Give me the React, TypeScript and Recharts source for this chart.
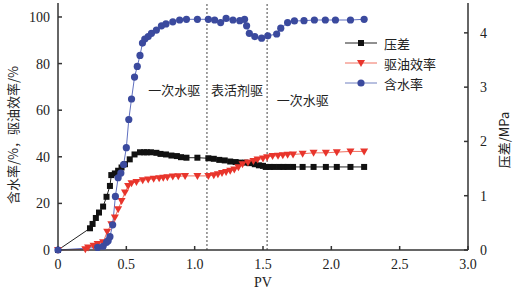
import {
  LineChart,
  Line,
  XAxis,
  YAxis,
  ReferenceLine,
  ReferenceDot,
  Legend,
} from "recharts";

// 压差 (MPa)
const pvPressure = [
  0, 0.234, 0.253, 0.277, 0.3, 0.33, 0.355, 0.38, 0.39, 0.416, 0.44, 0.465, 0.49, 0.525, 0.56, 0.6,
  0.63, 0.65, 0.68, 0.72, 0.75, 0.79, 0.83, 0.87, 0.9, 0.94, 1.02, 1.1, 1.14, 1.18, 1.22, 1.26, 1.3,
  1.33, 1.37, 1.4, 1.44, 1.47, 1.5, 1.52, 1.55, 1.58, 1.62, 1.65, 1.68, 1.72, 1.79, 1.87, 1.96,
  2.04, 2.14, 2.24,
];
const pressure = [
  0, 0.4, 0.48, 0.59, 0.69, 0.8, 0.98, 1.18, 1.38, 1.41, 1.46, 1.52, 1.58, 1.67, 1.76, 1.8, 1.8,
  1.8, 1.8, 1.79, 1.77, 1.76, 1.74, 1.73, 1.71, 1.7, 1.7, 1.69, 1.68, 1.66, 1.65, 1.63, 1.62, 1.61,
  1.61, 1.6, 1.58, 1.56, 1.55, 1.53, 1.53, 1.53, 1.53, 1.53, 1.53, 1.53, 1.53, 1.53, 1.53, 1.53,
  1.53, 1.53,
];

// 驱油效率 (%)
const pvOil = [
  0, 0.2, 0.22, 0.26, 0.29, 0.33, 0.36, 0.39, 0.416, 0.44, 0.465, 0.49, 0.513, 0.538, 0.574, 0.62,
  0.66, 0.7, 0.74, 0.77, 0.8, 0.84, 0.88, 0.93, 1.02, 1.1, 1.14, 1.17, 1.2, 1.23, 1.26, 1.29, 1.32,
  1.35, 1.39, 1.43, 1.46, 1.5, 1.53, 1.57, 1.61, 1.645, 1.68, 1.72, 1.79, 1.87, 1.96, 2.04, 2.14,
  2.24,
];
const oilEff = [
  0, 0.3, 1.1, 1.8, 2.6, 3.3, 7.8, 11.1, 14, 17.5, 21, 24.7, 27.5, 28.6, 29.2, 29.9, 30.3, 30.6,
  30.8, 31, 31.2, 31.5, 31.6, 31.8, 31.8, 31.8, 32.1, 32.5, 33, 33.5, 34, 34.6, 35.5, 36.8, 37.5,
  38.2, 38.8, 39.3, 39.8, 40.3, 40.5, 40.7, 40.9, 41, 41.3, 41.7, 41.7, 42, 42.3, 42.3,
];

// 含水率 (%)
const pvWater = [
  0, 0.29, 0.33, 0.355, 0.367, 0.38, 0.4, 0.42, 0.44, 0.46, 0.48, 0.5, 0.518, 0.538, 0.56, 0.58,
  0.6, 0.618, 0.635, 0.66, 0.684, 0.72, 0.757, 0.79, 0.84, 0.89, 0.94, 1.02, 1.1, 1.146, 1.19, 1.23,
  1.28, 1.33, 1.365, 1.38, 1.4, 1.44, 1.49, 1.535, 1.6, 1.63, 1.68, 1.73, 1.8, 1.876, 1.956, 2.03,
  2.14, 2.24,
];
const waterCut = [
  0, 1.1, 1.6, 3.3, 4, 5.7, 10.8, 23, 31, 33, 36.7, 43.9, 56, 64.8, 74.2, 78.8, 83.5, 88.8, 90.5,
  91.6, 93, 94.4, 96.2, 97, 97.9, 98.7, 99, 99, 99, 98.7, 97.6, 99.4, 98.7, 98.4, 99, 96.2, 93, 91.6,
  90.9, 91.9, 92.7, 95.2, 97.6, 98.3, 98.4, 98.7, 98.7, 98.7, 98.7, 99,
];

const xTicks = [0, 0.5, 1, 1.5, 2, 2.5, 3];
const leftTicks = [0, 20, 40, 60, 80, 100];
const rightTicks = [0, 1, 2, 3, 4];
const stageBounds = [1.09, 1.53];
const stageLabels = [
  { x: 0.85, y: 68.4, text: "一次水驱" },
  { x: 1.31, y: 68.4, text: "表活剂驱" },
  { x: 1.79, y: 64, text: "一次水驱" },
];

const pressureData = pvPressure.map((pv, i) => ({ pv, v: pressure[i] }));
const oilData = pvOil.map((pv, i) => ({ pv, v: oilEff[i] }));
const waterData = pvWater.map((pv, i) => ({ pv, v: waterCut[i] }));

const BLACK = "#111111";
const RED = "#e8352c";
const BLUE = "#3b4a9e";
const AXIS = "#333333";
const SERIF = "Liberation Serif, DejaVu Serif, serif";
const CJK = "Noto Sans CJK SC, sans-serif";

const Square = (p: any) => {
  if (p.cx == null || p.cy == null) return <g key={p.key} />;
  return <rect key={p.key} x={p.cx - 3} y={p.cy - 3} width={6} height={6} fill={BLACK} />;
};

const Triangle = (p: any) => {
  if (p.cx == null || p.cy == null) return <g key={p.key} />;
  const { cx, cy } = p;
  return (
    <path key={p.key} d={`M${cx - 4},${cy - 3} L${cx + 4},${cy - 3} L${cx},${cy + 4} Z`} fill={RED} />
  );
};

const Circle = (p: any) => {
  if (p.cx == null || p.cy == null) return <g key={p.key} />;
  return <circle key={p.key} cx={p.cx} cy={p.cy} r={3.6} fill={BLUE} />;
};

// tick label in Times-like serif
const makeTick = (anchor: "start" | "middle" | "end", dy: number, fmt: (v: number) => string) =>
  (p: any) => (
    <text
      x={p.x}
      y={p.y}
      dy={dy}
      textAnchor={anchor}
      fontFamily={SERIF}
      fontSize={14}
      fill="#222"
    >
      {fmt(p.payload.value)}
    </text>
  );

const xFmt = (v: number) => (v === 0 ? "0" : v.toFixed(1));
const numFmt = (v: number) => String(v);

const legendItems = [
  { name: "压差", color: BLACK, line: "#222", marker: "square" },
  { name: "驱油效率", color: RED, line: "#f07060", marker: "triangle" },
  { name: "含水率", color: BLUE, line: "#7080c0", marker: "circle" },
];

const LegendBox = () => (
  <div style={{ fontFamily: CJK, fontSize: 13, color: "#222" }}>
    {legendItems.map((it) => (
      <div key={it.name} style={{ display: "flex", alignItems: "center", height: 20 }}>
        <svg width={34} height={12} style={{ marginRight: 6 }}>
          <line x1={1} y1={6} x2={33} y2={6} stroke={it.line} strokeWidth={1} />
          {it.marker === "square" && <rect x={14} y={3} width={6} height={6} fill={it.color} />}
          {it.marker === "triangle" && <path d="M13,3 L21,3 L17,10 Z" fill={it.color} />}
          {it.marker === "circle" && <circle cx={17} cy={6} r={3.6} fill={it.color} />}
        </svg>
        <span>{it.name}</span>
      </div>
    ))}
  </div>
);

const LeftLabel = () => (
  <text
    x={12}
    y={135}
    transform="rotate(-90 12 135)"
    textAnchor="middle"
    dominantBaseline="central"
    fontFamily={CJK}
    fontSize={13}
    fill="#222"
  >
    含水率/%，驱油效率/%
  </text>
);

const RightLabel = () => (
  <text
    x={503}
    y={140}
    transform="rotate(-90 503 140)"
    textAnchor="middle"
    dominantBaseline="central"
    fontFamily={CJK}
    fontSize={13}
    fill="#222"
  >
    压差/MPa
  </text>
);

const PvLabel = () => (
  <text x={263} y={287} textAnchor="middle" fontFamily={SERIF} fontSize={14} fill="#222">
    PV
  </text>
);

export default function App() {
  return (
    <div style={{ position: "absolute", left: 0, top: 0, background: "#fff", fontFamily: SERIF }}>
      <LineChart width={515} height={292} margin={{ top: 3, right: 7, bottom: 12, left: 8 }}>
        <XAxis
          xAxisId="x"
          dataKey="pv"
          type="number"
          domain={[0, 3]}
          ticks={xTicks}
          height={30}
          tickSize={-4}
          tickMargin={12}
          stroke={AXIS}
          strokeWidth={1.5}
          tick={makeTick("middle", 11, xFmt)}
          allowDuplicatedCategory={false}
          label={<PvLabel />}
        />
        <XAxis
          xAxisId="top"
          orientation="top"
          dataKey="pv"
          type="number"
          domain={[0, 3]}
          height={0}
          tick={false}
          tickLine={false}
          stroke={AXIS}
          strokeWidth={1.5}
        />
        <YAxis
          yAxisId="left"
          type="number"
          domain={[0, 106]}
          ticks={leftTicks}
          width={50}
          tickSize={-4}
          tickMargin={12}
          stroke={AXIS}
          strokeWidth={1.5}
          tick={makeTick("end", 5, numFmt)}
          label={<LeftLabel />}
        />
        <YAxis
          yAxisId="right"
          orientation="right"
          type="number"
          domain={[0, 4.55]}
          ticks={rightTicks}
          width={40}
          tickSize={-4}
          tickMargin={16}
          stroke={AXIS}
          strokeWidth={1.5}
          tick={makeTick("start", 5, numFmt)}
          label={<RightLabel />}
        />
        {stageBounds.map((b) => (
          <ReferenceLine
            key={b}
            x={b}
            xAxisId="x"
            yAxisId="left"
            stroke="#444"
            strokeWidth={1}
            strokeDasharray="2 2"
          />
        ))}
        {stageLabels.map((s, i) => (
          <ReferenceDot
            key={i}
            x={s.x}
            y={s.y}
            xAxisId="x"
            yAxisId="left"
            r={0}
            fill="none"
            stroke="none"
            label={{
              value: s.text,
              position: "center",
              fontFamily: CJK,
              fontSize: 13,
              fill: "#222",
            }}
          />
        ))}
        <Line
          data={pressureData}
          dataKey="v"
          xAxisId="x"
          yAxisId="right"
          type="linear"
          stroke="#222"
          strokeWidth={1}
          dot={Square}
          activeDot={false}
          isAnimationActive={false}
        />
        <Line
          data={oilData}
          dataKey="v"
          xAxisId="x"
          yAxisId="left"
          type="linear"
          stroke="#f07060"
          strokeWidth={1}
          dot={Triangle}
          activeDot={false}
          isAnimationActive={false}
        />
        <Line
          data={waterData}
          dataKey="v"
          xAxisId="x"
          yAxisId="left"
          type="linear"
          stroke="#6070c0"
          strokeWidth={1}
          dot={Circle}
          activeDot={false}
          isAnimationActive={false}
        />
        <Legend
          layout="horizontal"
          verticalAlign="middle"
          align="center"
          content={<LegendBox />}
          wrapperStyle={{ left: 344, top: 33, width: 120 }}
        />
      </LineChart>
    </div>
  );
}
